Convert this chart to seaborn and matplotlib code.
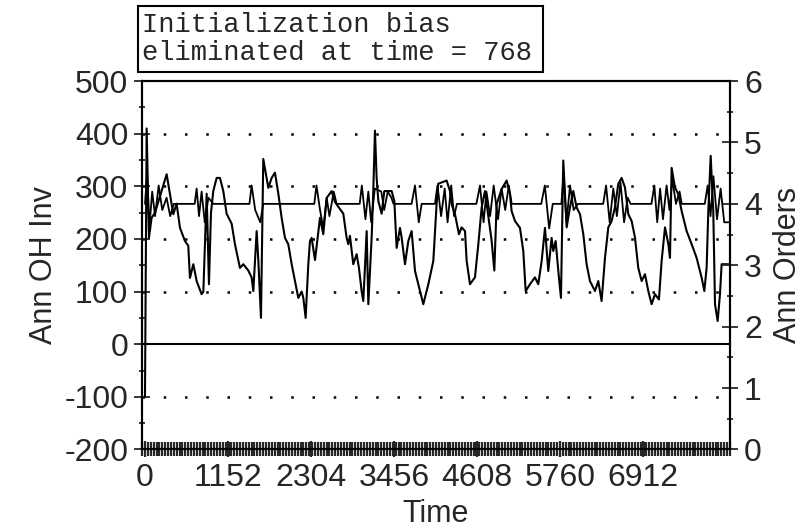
import numpy as np
import pandas as pd
import matplotlib
matplotlib.use("Agg")
import matplotlib.pyplot as plt
from matplotlib.patches import Rectangle
from matplotlib.ticker import MultipleLocator
import seaborn as sns

# inventory series (left axis)
inv_time = [0, 23, 55, 92, 139, 301, 393, 439, 486, 555, 601, 624, 671, 717, 786, 810,
            856, 888, 916, 948, 995, 1041, 1087, 1133, 1203, 1249, 1318, 1365, 1434, 1480,
            1504, 1550, 1573, 1610, 1642, 1712, 1758, 1804, 1851, 1897, 1943, 1989, 2036,
            2082, 2128, 2175, 2198, 2230, 2267, 2290, 2313, 2360, 2429, 2475, 2522, 2591,
            2637, 2753, 2799, 2822, 2845, 2891, 2938, 2970, 3007, 3030, 3053, 3077, 3100,
            3146, 3169, 3192, 3215, 3239, 3285, 3322, 3424, 3461, 3493, 3539, 3562, 3609,
            3655, 3701, 3748, 3794, 3863, 3933, 4002, 4048, 4071, 4187, 4233, 4256, 4303,
            4358, 4395, 4442, 4465, 4511, 4580, 4627, 4673, 4719, 4812, 4849, 4881, 4951,
            5020, 5066, 5089, 5136, 5205, 5251, 5284, 5344, 5413, 5459, 5506, 5552, 5598,
            5644, 5667, 5700, 5746, 5774, 5806, 5853, 5899, 5945, 5991, 6038, 6084, 6130,
            6176, 6246, 6292, 6338, 6385, 6431, 6477, 6523, 6570, 6616, 6662, 6709, 6755,
            6801, 6847, 6894, 6940, 6986, 7032, 7079, 7134, 7171, 7218, 7264, 7287, 7310,
            7356, 7403, 7449, 7518, 7588, 7657, 7727, 7764, 7796, 7819, 7852, 7888, 7912,
            7949, 7981, 8004, 8100]
inv_value = [-100, 410, 202, 240, 250, 323, 247, 267, 221, 196, 187, 126, 152, 120, 95, 100,
             286, 114, 250, 291, 316, 316, 291, 248, 229, 190, 145, 152, 140, 127,
             101, 215, 160, 50, 352, 297, 316, 326, 286, 240, 202, 190, 152,
             120, 88, 100, 88, 50, 152, 196, 202, 160, 240, 209, 278, 291,
             270, 248, 202, 190, 206, 152, 171, 145, 101, 82, 145, 215, 76,
             202, 291, 406, 317, 272, 248, 291, 291, 272, 183, 221, 203, 152,
             196, 215, 139, 114, 76, 114, 158, 267, 305, 311, 291, 266, 247,
             209, 222, 215, 158, 114, 127, 190, 260, 291, 196, 140, 266, 295,
             311, 285, 253, 234, 221, 177, 101, 114, 127, 114, 158, 221, 139,
             202, 177, 196, 126, 88, 349, 222, 260, 291, 260, 247, 209, 152,
             120, 101, 120, 82, 164, 222, 234, 260, 305, 316, 298, 247, 234,
             203, 145, 120, 133, 101, 76, 95, 85, 158, 222, 190, 164, 335,
             298, 285, 253, 215, 190, 164, 126, 101, 146, 253, 358, 253, 76,
             44, 95, 152, 152]

# orders series (right axis)
ord_time = [0, 30, 60, 100, 140, 190, 240, 300, 350, 400, 690, 717, 750, 786, 830, 880,
            948, 1450, 1480, 1530, 1600, 1642, 2350, 2380, 2430, 2475, 2522, 2560, 2620,
            2660, 2980, 3010, 3060, 3100, 3140, 3190, 3280, 3320, 3370, 3420, 3450, 3700,
            3748, 3800, 3840, 4025, 4060, 4110, 4160, 4200, 4250, 4290, 4330, 4600, 4650,
            4700, 4740, 4790, 4840, 4900, 4950, 5000, 5050, 5090, 5500, 5550, 5610, 5660,
            5780, 5810, 5850, 5900, 5950, 6010, 6360, 6400, 6450, 6500, 6550, 6600, 6650,
            6700, 6740, 7030, 7070, 7110, 7150, 7190, 7240, 7280, 7320, 7370, 7420, 7450,
            7770, 7810, 7850, 7890, 7940, 7990, 8040, 8100]
ord_value = [4.0, 4.5, 3.6, 4.2, 3.8, 4.3, 3.9, 4.1, 3.8, 4.0, 4.0, 4.25, 3.8, 4.2, 3.7, 4.1,
             4.0, 4.0, 4.3, 3.9, 3.7, 4.0, 4.0, 4.3, 3.9, 3.6, 4.1, 3.8, 4.2,
             4.0, 4.0, 4.3, 3.75, 4.2, 3.7, 4.25, 4.2, 3.9, 4.2, 4.1, 4.0, 4.0,
             4.3, 3.7, 4.0, 4.0, 4.3, 3.8, 4.25, 3.7, 4.3, 3.8, 4.0, 4.0, 4.3,
             3.7, 4.2, 3.8, 4.3, 3.75, 4.25, 3.9, 4.3, 4.0, 4.0, 4.3, 3.6, 4.0,
             4.0, 4.5, 3.7, 4.3, 3.9, 4.0, 4.0, 4.3, 3.7, 4.25, 3.8, 4.35, 3.7,
             4.1, 4.0, 4.0, 4.3, 3.7, 4.25, 3.75, 4.3, 3.9, 4.4, 4.0, 4.2, 4.0,
             4.0, 4.3, 3.8, 4.45, 3.75, 4.25, 3.7, 3.7]

inv_ticks = [-200, -100, 0, 100, 200, 300, 400, 500]
ord_ticks = [0, 1, 2, 3, 4, 5, 6]
time_ticks = [0, 1152, 2304, 3456, 4608, 5760, 6912]
note = "Initialization bias\neliminated at time = 768"

sns.set_style("ticks")
plt.rcParams['font.family'] = ['Liberation Sans', 'DejaVu Sans']
plt.rcParams['axes.unicode_minus'] = False

inv_df = pd.DataFrame({"Time": inv_time, "Inv": inv_value})
ord_df = pd.DataFrame({"Time": ord_time, "Orders": ord_value})

fig = plt.figure(figsize=(8.12, 5.30), dpi=100)
ax = fig.add_axes([0.175, 0.152, 0.724, 0.695])
ax2 = ax.twinx()

sns.lineplot(data=inv_df, x="Time", y="Inv", ax=ax, color="black", linewidth=1.5,
             estimator=None, sort=False)
sns.lineplot(data=ord_df, x="Time", y="Orders", ax=ax2, color="black", linewidth=1.3,
             estimator=None, sort=False)

# dotted reference lines and solid zero line
for v in [-100, 100, 200, 300, 400]:
    ax.axhline(v, color="black", linewidth=1.8, linestyle=(0, (1, 7.5)), zorder=0)
ax.axhline(0, color="black", linewidth=1.5)

ax.set_xlim(-40, 8120)
ax.set_ylim(-200, 500)
ax2.set_ylim(0, 6)

ax.set_xticks(time_ticks)
ax.xaxis.set_minor_locator(MultipleLocator(40))
ax.set_yticks(inv_ticks)
ax.yaxis.set_minor_locator(MultipleLocator(50))
ax2.set_yticks(ord_ticks)
ax2.yaxis.set_minor_locator(MultipleLocator(0.5))

ax.tick_params(axis="x", which="major", direction="inout", length=12, width=1.6,
               labelsize=23, pad=4)
ax.tick_params(axis="x", which="minor", direction="inout", length=10, width=1.6)
ax.tick_params(axis="y", which="major", direction="inout", length=12, width=1.3,
               labelsize=23, pad=4)
ax.tick_params(axis="y", which="minor", direction="inout", length=5, width=1.3)
ax2.tick_params(axis="y", which="major", direction="inout", length=12, width=1.3,
                labelsize=23, pad=4)
ax2.tick_params(axis="y", which="minor", direction="inout", length=5, width=1.3)

for a in (ax, ax2):
    for s in a.spines.values():
        s.set_linewidth(1.5)
        s.set_color("black")

ax.set_xlabel("Time", fontsize=22, labelpad=4)
ax.set_ylabel("Ann OH Inv", fontsize=22, labelpad=4)
ax2.set_ylabel("Ann Orders", fontsize=22, labelpad=8)

# note box above the plot
fig.patches.append(Rectangle((138 / 812, 1 - 72 / 530), (543 - 138) / 812, (72 - 6) / 530,
                             transform=fig.transFigure, fill=False, edgecolor="black",
                             linewidth=1.5))
fig.text(142 / 812, 1 - 39 / 530, note, family=["Liberation Mono", "DejaVu Sans Mono"],
         fontsize=19.5, va="center", ha="left", linespacing=1.1)

fig.savefig("out.png", dpi=100)
